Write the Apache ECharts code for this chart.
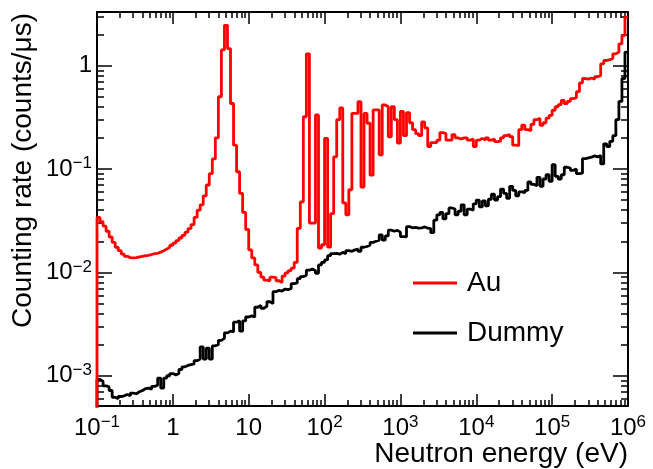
<!DOCTYPE html>
<html>
<head>
<meta charset="utf-8">
<script src="https://cdn.jsdelivr.net/npm/echarts@6/dist/echarts.min.js"></script>
<style>
  html, body { margin: 0; padding: 0; background: #fff; }
  #chart { width: 653px; height: 469px; }
</style>
</head>
<body>
<div id="chart"></div>
<script>
// histogram: 25 log-spaced bins per decade starting at 0.1 eV (175 bins up to 1 MeV)
const eMin = 0.1;
const binsPerDecade = 25;

// counting rate per bin (counts/us)
const auRate = [
  0.034, 0.031, 0.028, 0.025, 0.022, 0.0195, 0.0175, 0.0162, 0.0150, 0.0143,
  0.0139, 0.0138, 0.0139, 0.0141, 0.0143, 0.0145, 0.0146, 0.0149, 0.0152, 0.0153,
  0.0157, 0.0162, 0.0168, 0.0175, 0.0183,
  0.0192, 0.0203, 0.0215, 0.0228, 0.0245, 0.0265, 0.029, 0.034, 0.040, 0.045,
  0.055, 0.070, 0.090, 0.125, 0.20, 0.50, 1.42, 2.45, 1.46, 0.43,
  0.17, 0.094, 0.058, 0.038, 0.026,
  0.0165, 0.0138, 0.0118, 0.0100, 0.0090, 0.0084, 0.0083, 0.0090, 0.0089, 0.0083,
  0.0080, 0.0092, 0.0099, 0.0104, 0.0110, 0.0125, 0.0267, 0.048, 0.32, 1.30,
  0.030, 0.030, 0.333, 0.0172, 0.0185,
  0.198, 0.0176, 0.037, 0.131, 0.30, 0.39, 0.047, 0.036, 0.063, 0.345,
  0.345, 0.448, 0.067, 0.345, 0.277, 0.0872, 0.373, 0.373, 0.137, 0.416,
  0.40, 0.205, 0.40, 0.30, 0.178,
  0.36, 0.21, 0.35, 0.28, 0.24, 0.22, 0.21, 0.285, 0.25, 0.165,
  0.18, 0.18, 0.19, 0.225, 0.22, 0.19, 0.19, 0.215, 0.20, 0.195,
  0.20, 0.20, 0.19, 0.195, 0.165,
  0.19, 0.198, 0.19, 0.20, 0.19, 0.195, 0.184, 0.186, 0.20, 0.21,
  0.215, 0.205, 0.17, 0.168, 0.24, 0.266, 0.24, 0.235, 0.27, 0.30,
  0.31, 0.265, 0.28, 0.31, 0.33,
  0.37, 0.40, 0.42, 0.46, 0.43, 0.45, 0.48, 0.49, 0.56, 0.68,
  0.75, 0.74, 0.76, 0.74, 0.78, 0.80, 1.04, 1.12, 1.14, 1.17,
  1.30, 1.35, 1.62, 1.95, 2.95
];

const dummyRate = [
  9.2e-4, 8.8e-4, 8.0e-4, 7.8e-4, 7.2e-4, 6.2e-4, 6.0e-4, 6.3e-4, 6.4e-4, 6.6e-4,
  6.4e-4, 6.8e-4, 6.7e-4, 7.0e-4, 7.2e-4, 7.5e-4, 7.6e-4, 7.4e-4, 7.9e-4, 8.1e-4,
  9.5e-4, 7.6e-4, 9.5e-4, 1.0e-3, 1.05e-3,
  1.02e-3, 1.05e-3, 1.15e-3, 1.22e-3, 1.26e-3, 1.28e-3, 1.3e-3, 1.4e-3, 1.45e-3, 1.9e-3,
  1.45e-3, 1.85e-3, 1.45e-3, 1.95e-3, 2.0e-3, 2.2e-3, 2.3e-3, 2.6e-3, 2.7e-3, 2.65e-3,
  3.3e-3, 3.4e-3, 2.7e-3, 3.4e-3, 3.7e-3,
  3.8e-3, 3.7e-3, 4.6e-3, 4.8e-3, 4.5e-3, 4.7e-3, 5.2e-3, 5.0e-3, 6.5e-3, 6.7e-3,
  6.6e-3, 6.9e-3, 6.8e-3, 7.0e-3, 7.8e-3, 7.9e-3, 8.7e-3, 9.1e-3, 9.4e-3, 1.05e-2,
  1.08e-2, 1.04e-2, 9.8e-3, 1.18e-2, 1.25e-2,
  0.0132, 0.0145, 0.0152, 0.0153, 0.0150, 0.0156, 0.0152, 0.0162, 0.0160, 0.0165,
  0.0168, 0.0160, 0.0175, 0.0178, 0.0184, 0.0195, 0.0200, 0.0205, 0.0230, 0.0205,
  0.0225, 0.0256, 0.0250, 0.0255, 0.0245,
  0.0222, 0.0220, 0.0277, 0.0270, 0.0272, 0.0268, 0.0270, 0.0275, 0.0268, 0.0265,
  0.0242, 0.032, 0.036, 0.038, 0.033, 0.037, 0.042, 0.041, 0.036, 0.039,
  0.045, 0.036, 0.041, 0.040, 0.046,
  0.050, 0.043, 0.049, 0.044, 0.051, 0.057, 0.050, 0.054, 0.064, 0.058,
  0.052, 0.068, 0.062, 0.055, 0.060, 0.059, 0.062, 0.075, 0.071, 0.069,
  0.083, 0.068, 0.080, 0.088, 0.076,
  0.110, 0.085, 0.080, 0.088, 0.104, 0.102, 0.097, 0.100, 0.090, 0.091,
  0.126, 0.128, 0.130, 0.134, 0.131, 0.135, 0.112, 0.175, 0.165, 0.185,
  0.21, 0.30, 0.45, 0.75, 1.35
];

// axis ticks
const xMajor = [0.1, 1, 10, 100, 1e3, 1e4, 1e5, 1e6];
const yMajor = [1e-3, 1e-2, 1e-1, 1];
const xRange = [0.1, 1e6];
const yRange = [5.1e-4, 3.3];

function minorTicks(range) {
  const out = [];
  for (let e = -5; e <= 6; e++) {
    for (let m = 2; m <= 9; m++) {
      const v = m * Math.pow(10, e);
      if (v > range[0] && v < range[1]) out.push(v);
    }
  }
  return out;
}

// step histogram: left edge of each bin, plus closing right edge
function histPoints(values) {
  const pts = [[eMin, 1e-7]];
  values.forEach(function (v, i) {
    pts.push([eMin * Math.pow(10, i / binsPerDecade), v]);
  });
  pts.push([eMin * Math.pow(10, values.length / binsPerDecade), values[values.length - 1]]);
  return pts;
}

const FONT = '"Liberation Sans", Arial, sans-serif';

function powLabel(v) {
  const e = Math.round(Math.log10(v));
  if (e === 0) return '{b|1}';
  if (e === 1) return '{b|10}';
  return '{b|10}{s|' + (e < 0 ? '\u2212' + (-e) : e) + '}';
}

const labelRich = {
  b: { fontSize: 24, lineHeight: 28, fontFamily: FONT, color: '#000' },
  s: { fontSize: 17, lineHeight: 12, fontFamily: FONT, color: '#000', verticalAlign: 'top' }
};

function xAx(position, ticks, len, showLine, labels) {
  return {
    type: 'log', logBase: 10, min: xRange[0], max: xRange[1], position: position,
    axisLine: { show: showLine, onZero: false, lineStyle: { color: '#000', width: 2 } },
    axisTick: { show: true, inside: true, length: len, customValues: ticks, lineStyle: { color: '#000', width: 1.5 } },
    axisLabel: labels ? { show: true, customValues: xMajor, formatter: powLabel, margin: 8, rich: labelRich } : { show: false },
    splitLine: { show: false }, minorTick: { show: false }
  };
}

function yAx(position, ticks, len, showLine, labels) {
  return {
    type: 'log', logBase: 10, min: yRange[0], max: yRange[1], position: position,
    axisLine: { show: showLine, onZero: false, lineStyle: { color: '#000', width: 2 } },
    axisTick: { show: true, inside: true, length: len, customValues: ticks, lineStyle: { color: '#000', width: 1.5 } },
    axisLabel: labels ? { show: true, customValues: yMajor, formatter: powLabel, margin: 5, rich: labelRich } : { show: false },
    splitLine: { show: false }, minorTick: { show: false }
  };
}

const chart = echarts.init(document.getElementById('chart'), null, { renderer: 'canvas' });

chart.setOption({
  animation: false,
  backgroundColor: '#fff',
  grid: { left: 97, right: 25, top: 12, bottom: 63, containLabel: false, outerBoundsMode: 'none' },
  xAxis: [
    xAx('bottom', xMajor, 12, true, true),
    xAx('bottom', minorTicks(xRange), 6, false, false),
    xAx('top', xMajor, 12, true, false),
    xAx('top', minorTicks(xRange), 6, false, false)
  ],
  yAxis: [
    yAx('left', yMajor, 15, true, true),
    yAx('left', minorTicks(yRange), 7, false, false),
    yAx('right', yMajor, 15, true, false),
    yAx('right', minorTicks(yRange), 7, false, false)
  ],
  legend: {
    data: ['Au', 'Dummy'],
    orient: 'vertical',
    left: 408, top: 263,
    icon: 'rect',
    itemWidth: 44, itemHeight: 3, itemGap: 20,
    textStyle: { fontSize: 28, lineHeight: 30, color: '#000', fontFamily: FONT, padding: [0, 0, 0, 5] }
  },
  graphic: [
    { type: 'text', x: 628, y: 454, style: { text: 'Neutron energy (eV)', fontSize: 28, fontFamily: FONT, fill: '#000', align: 'right', verticalAlign: 'middle' } },
    { type: 'text', x: 23, y: 13, rotation: Math.PI / 2, style: { text: 'Counting rate (counts/\u03bcs)', fontSize: 28, fontFamily: FONT, fill: '#000', align: 'right', verticalAlign: 'middle' } }
  ],
  series: [
    {
      name: 'Dummy', type: 'line', step: 'end', symbol: 'none',
      xAxisIndex: 0, yAxisIndex: 0,
      lineStyle: { color: '#000', width: 2.8 }, itemStyle: { color: '#000' },
      data: histPoints(dummyRate)
    },
    {
      name: 'Au', type: 'line', step: 'end', symbol: 'none',
      xAxisIndex: 0, yAxisIndex: 0,
      lineStyle: { color: '#ff0000', width: 2.8 }, itemStyle: { color: '#ff0000' },
      data: histPoints(auRate)
    }
  ]
});
</script>
</body>
</html>
